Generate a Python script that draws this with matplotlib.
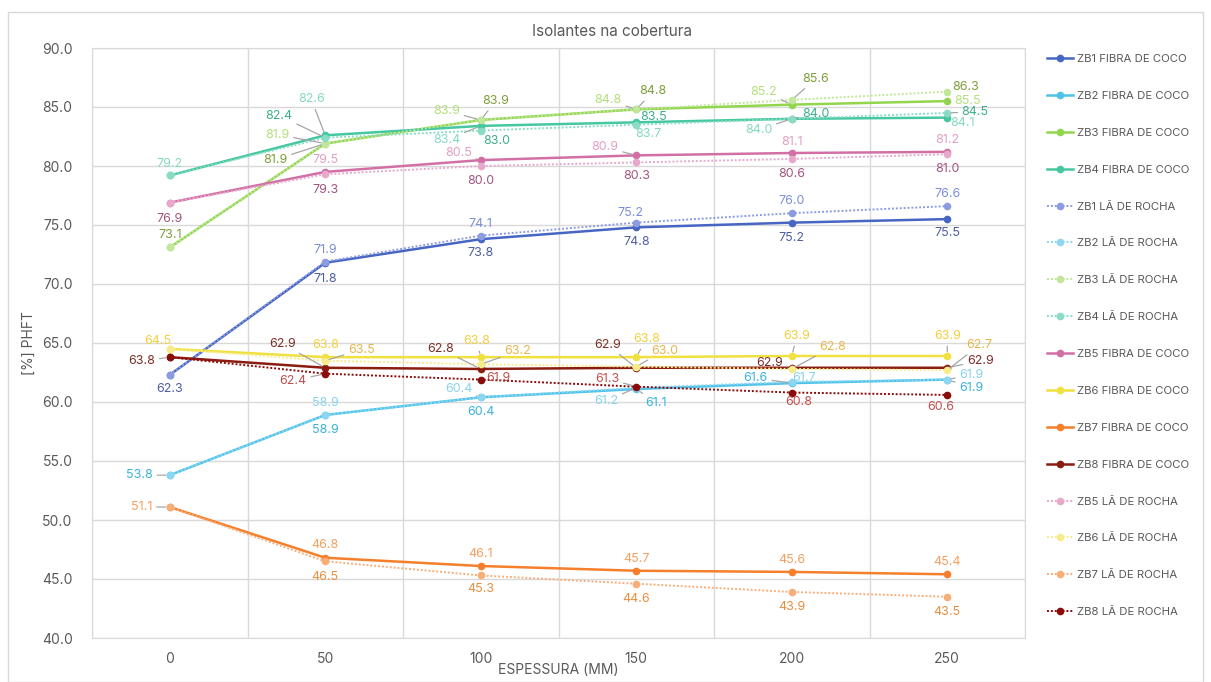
import matplotlib
matplotlib.use("Agg")
import matplotlib.pyplot as plt
from matplotlib.patches import Rectangle

plt.rcParams["font.family"] = ["Inter", "DejaVu Sans"]

# espessura do isolante (mm)
espessura = ["0", "50", "100", "150", "200", "250"]

# PHFT (%) por zona bioclimática
zb1_fibra = [62.3, 71.8, 73.8, 74.8, 75.2, 75.5]
zb2_fibra = [53.8, 58.9, 60.4, 61.1, 61.6, 61.9]
zb3_fibra = [73.1, 81.9, 83.9, 84.8, 85.2, 85.5]
zb4_fibra = [79.2, 82.6, 83.4, 83.7, 84.0, 84.1]
zb1_rocha = [62.3, 71.9, 74.1, 75.2, 76.0, 76.6]
zb2_rocha = [53.8, 58.9, 60.4, 61.2, 61.7, 61.9]
zb3_rocha = [73.1, 81.9, 83.9, 84.8, 85.6, 86.3]
zb4_rocha = [79.2, 82.4, 83.0, 83.5, 84.0, 84.5]
zb5_fibra = [76.9, 79.5, 80.5, 80.9, 81.1, 81.2]
zb6_fibra = [64.5, 63.8, 63.8, 63.8, 63.9, 63.9]
zb7_fibra = [51.1, 46.8, 46.1, 45.7, 45.6, 45.4]
zb8_fibra = [63.8, 62.9, 62.8, 62.9, 62.9, 62.9]
zb5_rocha = [76.9, 79.3, 80.0, 80.3, 80.6, 81.0]
zb6_rocha = [64.5, 63.5, 63.2, 63.0, 62.8, 62.7]
zb7_rocha = [51.1, 46.5, 45.3, 44.6, 43.9, 43.5]
zb8_rocha = [63.8, 62.4, 61.9, 61.3, 60.8, 60.6]

# label offsets in pixels (dx, dy, leader line); None = no label
L, N = True, False

series = [
    ("ZB1 FIBRA DE COCO", zb1_fibra, "#4766C4", "-", "#4F5FA0",
     [(0, -14, N), (0, -16, N), (0, -14, N), (0, -15, N), (0, -15, N), (0, -14, N)]),
    ("ZB2 FIBRA DE COCO", zb2_fibra, "#4DC3EA", "-", "#3AB2DC",
     [(-30, 0, L), (0, -15, N), (0, -15, N), (20, -14, L), (-36, 5, L), (24, -8, L)]),
    ("ZB3 FIBRA DE COCO", zb3_fibra, "#92D64E", "-", "#B4E07C",
     [None, (-48, 9, L), (-34, 9, L), (-28, 9, L), (-28, 13, L), (20, 0, L)]),
    ("ZB4 FIBRA DE COCO", zb4_fibra, "#45C7A0", "-", "#86D9C1",
     [(0, 11, N), (-14, 36, L), (-34, -14, L), (12, -12, N), (-33, -11, L), (15, -5, N)]),
    ("ZB1 LÃ DE ROCHA", zb1_rocha, "#8C9CE0", ":", "#7C8FD6",
     [None, (0, 12, N), (0, 12, N), (-6, 10, N), (0, 12, N), (0, 12, N)]),
    ("ZB2 LÃ DE ROCHA", zb2_rocha, "#8CD6F2", ":", "#8AD3EE",
     [None, (0, 12, N), (-22, 8, L), (-30, -13, L), (12, 4, N), (24, 5, L)]),
    ("ZB3 LÃ DE ROCHA", zb3_rocha, "#C0E79A", ":", "#7E9E3C",
     [(0, 12, N), (-50, -16, L), (15, 19, L), (17, 18, L), (24, 21, L), (18, 5, N)]),
    ("ZB4 LÃ DE ROCHA", zb4_rocha, "#8ADDC4", ":", "#3FAE8C",
     [None, (-46, 22, L), (16, -10, N), (17, 8, N), (24, 5, L), (28, 1, L)]),
    ("ZB5 FIBRA DE COCO", zb5_fibra, "#D270A6", "-", "#E2A0C4",
     [None, (0, 12, N), (-22, 7, L), (-31, 8, L), (0, 11, N), (0, 12, N)]),
    ("ZB6 FIBRA DE COCO", zb6_fibra, "#F0E040", "-", "#F0D040",
     [(-12, 8, N), (0, 12, N), (-4, 16, L), (10, 18, L), (5, 20, L), (0, 20, L)]),
    ("ZB7 FIBRA DE COCO", zb7_fibra, "#F57F2A", "-", "#F4A060",
     [(-28, 0, L), (0, 13, N), (0, 12, N), (0, 12, N), (0, 12, N), (0, 12, N)]),
    ("ZB8 FIBRA DE COCO", zb8_fibra, "#8A1C10", "-", "#7A3028",
     [(-28, -4, L), (-43, 24, L), (-40, 20, L), (-29, 23, L), (-22, 5, L), (33, 7, L)]),
    ("ZB5 LÃ DE ROCHA", zb5_rocha, "#E6A8CB", ":", "#A0567E",
     [(0, -16, N), (0, -16, N), (0, -15, N), (0, -14, N), (0, -15, N), (0, -15, N)]),
    ("ZB6 LÃ DE ROCHA", zb6_rocha, "#F6EC8C", ":", "#E6B84C",
     [None, (36, 11, L), (37, 13, L), (28, 16, L), (41, 22, L), (32, 25, L)]),
    ("ZB7 LÃ DE ROCHA", zb7_rocha, "#F8AE78", ":", "#E88E40",
     [None, (0, -16, N), (0, -14, N), (0, -15, N), (0, -15, N), (0, -15, N)]),
    ("ZB8 LÃ DE ROCHA", zb8_rocha, "#8B0A0A", ":", "#C0504D",
     [None, (-32, -7, L), (18, 2, N), (-29, 8, L), (7, -9, N), (-7, -12, N)]),
]

fig = plt.figure(figsize=(12.11, 6.82), dpi=100)
ax = fig.add_axes([92 / 1211, 1 - 638 / 682, 933 / 1211, 590 / 682])

fig.patches.append(Rectangle((8 / 1211, 0), 1195 / 1211, 670 / 682,
                             transform=fig.transFigure, fill=False,
                             edgecolor="#D9D9D9", lw=1.0))

x = list(range(len(espessura)))
for name, vals, color, ls, lcolor, offs in series:
    if ls == "-":
        ax.plot(x, vals, color=color, lw=1.8, marker="o", ms=4.5, label=name, zorder=3)
    else:
        ax.plot(x, vals, color=color, lw=1.4, linestyle=(0, (1, 1)), marker="o",
                ms=4.5, label=name, zorder=3)
    for i, v in enumerate(vals):
        if offs[i] is None:
            continue
        dx, dy, leader = offs[i]
        arrow = None
        if leader:
            arrow = dict(arrowstyle="-", color="#A6A6A6", lw=0.9, shrinkA=1, shrinkB=3)
        ax.annotate(f"{v:.1f}", (i, v), xytext=(dx, dy), textcoords="offset pixels",
                    ha="center", va="center", fontsize=9, color=lcolor,
                    arrowprops=arrow, zorder=5)

ax.set_xlim(-0.5, 5.5)
ax.set_ylim(40, 90)
ax.set_xticks(x)
ax.set_xticklabels(espessura)
ax.set_xticks([i + 0.5 for i in range(-1, 6)], minor=True)
ax.set_yticks(range(40, 91, 5))
ax.set_yticklabels([f"{t:.1f}" for t in range(40, 91, 5)])
ax.grid(True, which="minor", axis="x", color="#D9D9D9", lw=1)
ax.grid(True, which="major", axis="y", color="#D9D9D9", lw=1)
ax.tick_params(which="both", length=0, labelsize=10, colors="#595959")
ax.tick_params(axis="x", pad=10)
ax.tick_params(axis="y", pad=14)
for s in ax.spines.values():
    s.set_color("#D9D9D9")
ax.set_axisbelow(True)

ax.set_xlabel("ESPESSURA (MM)", fontsize=10, color="#595959", labelpad=-2)
ax.set_ylabel("[%] PHFT", fontsize=10, color="#595959", labelpad=4)
fig.text(0.505, 1 - 32 / 682, "Isolantes na cobertura", ha="center", va="center",
         fontsize=11, color="#595959")

handles, labels = ax.get_legend_handles_labels()
fig.legend(handles, labels, loc="upper left", bbox_to_anchor=(1047 / 1211, 1 - 54 / 682),
           frameon=False, fontsize=8.2, labelcolor="#595959", handlelength=2.3,
           handletextpad=0.35, labelspacing=2.36, borderpad=0, borderaxespad=0)

fig.savefig("out.png", dpi=100)
